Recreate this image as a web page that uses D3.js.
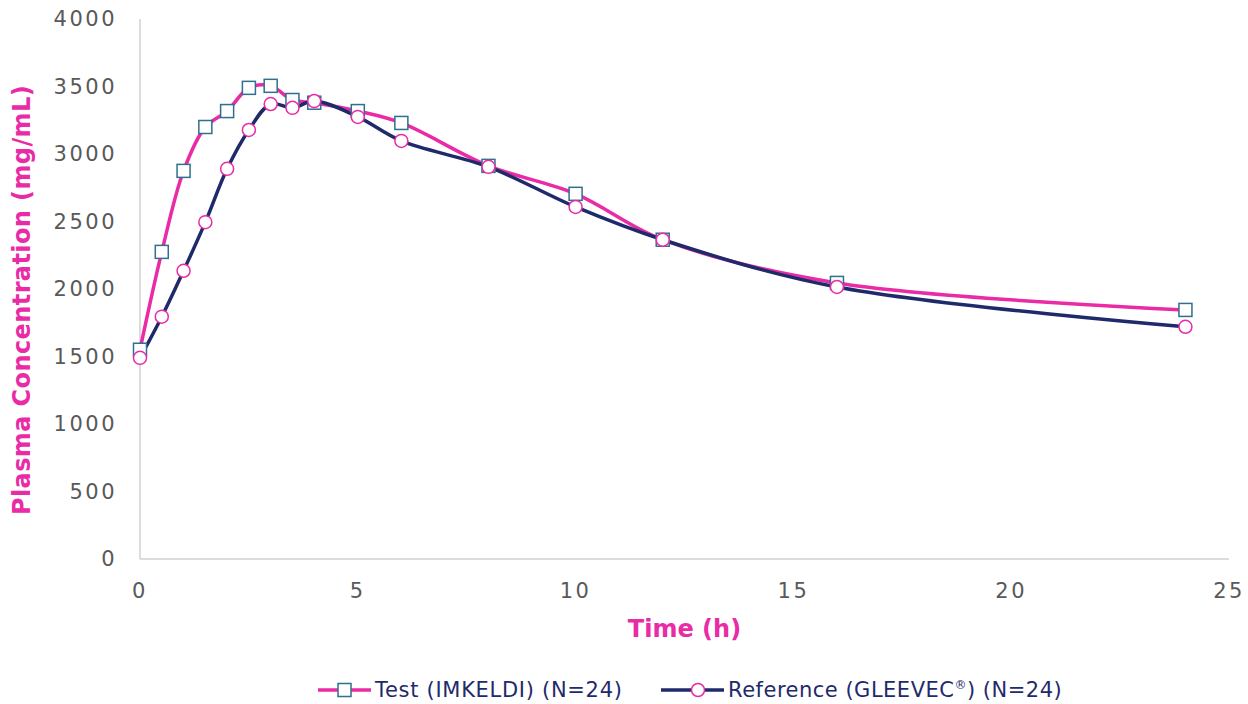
<!DOCTYPE html>
<html>
<head>
<meta charset="utf-8">
<script src="https://cdn.jsdelivr.net/npm/d3@7"></script>
<style>
  body { margin: 0; background: #fff; }
  svg { display: block; font-family: 'DejaVu Sans', sans-serif; }
</style>
</head>
<body>
<div id="chart"></div>
<script>
// Sampling times (h)
const times = [0, 0.5, 1, 1.5, 2, 2.5, 3, 3.5, 4, 5, 6, 8, 10, 12, 16, 24];
// Test (IMKELDI) mean concentrations
const testValues = [1550, 2275, 2875, 3200, 3318, 3490, 3505, 3400, 3380, 3318, 3230, 2912, 2705, 2365, 2045, 1845];
// Reference (GLEEVEC) mean concentrations
const refValues = [1490, 1795, 2135, 2495, 2890, 3178, 3370, 3342, 3392, 3275, 3097, 2905, 2608, 2365, 2015, 1720];
const xTicks = [0, 5, 10, 15, 20, 25];
const yTicks = [0, 500, 1000, 1500, 2000, 2500, 3000, 3500, 4000];

const width = 1248, height = 704;
const margin = { top: 19, right: 19, bottom: 145, left: 140 };
const pink = '#e92ba6', navy = '#1f2a6b', teal = '#2f6f8f', tickColor = '#595959';

const svg = d3.select('#chart').append('svg')
  .attr('width', width)
  .attr('height', height);

const x = d3.scaleLinear().domain([0, 25]).range([margin.left, width - margin.right]);
const y = d3.scaleLinear().domain([0, 4000]).range([height - margin.bottom, margin.top]);

// axes lines
svg.append('line')
  .attr('x1', x(0)).attr('x2', x(0))
  .attr('y1', y(4000)).attr('y2', y(0))
  .attr('stroke', '#d0d0d0').attr('stroke-width', 1.5);
svg.append('line')
  .attr('x1', x(0)).attr('x2', x(25))
  .attr('y1', y(0)).attr('y2', y(0))
  .attr('stroke', '#d0d0d0').attr('stroke-width', 1.5);

// tick labels
svg.append('g').selectAll('text')
  .data(yTicks).enter().append('text')
  .attr('x', 117)
  .attr('y', d => y(d))
  .attr('dy', '0.35em')
  .attr('text-anchor', 'end')
  .attr('fill', tickColor)
  .style('font-size', '21px')
  .style('letter-spacing', '2.5px')
  .text(d => d);

svg.append('g').selectAll('text')
  .data(xTicks).enter().append('text')
  .attr('x', d => x(d))
  .attr('y', y(0) + 32)
  .attr('dy', '0.35em')
  .attr('text-anchor', 'middle')
  .attr('fill', tickColor)
  .style('font-size', '21px')
  .style('letter-spacing', '2.5px')
  .text(d => d);

// axis titles
svg.append('text')
  .attr('x', (x(0) + x(25)) / 2)
  .attr('y', 629)
  .attr('dy', '0.35em')
  .attr('text-anchor', 'middle')
  .attr('fill', pink)
  .style('font-size', '24px')
  .style('font-weight', 'bold')
  .text('Time (h)');

svg.append('text')
  .attr('transform', 'translate(22, 300) rotate(-90)')
  .attr('dy', '0.35em')
  .attr('text-anchor', 'middle')
  .attr('fill', pink)
  .style('font-size', '24px')
  .style('font-weight', 'bold')
  .style('letter-spacing', '0.4px')
  .text('Plasma Concentration (mg/mL)');

const line = d3.line()
  .x((d, i) => x(times[i]))
  .y(d => y(d))
  .curve(d3.curveCatmullRom);

svg.append('path')
  .datum(testValues)
  .attr('d', line)
  .attr('fill', 'none')
  .attr('stroke', pink)
  .attr('stroke-width', 3.5);

svg.append('path')
  .datum(refValues)
  .attr('d', line)
  .attr('fill', 'none')
  .attr('stroke', navy)
  .attr('stroke-width', 3.5);

// markers
svg.append('g').selectAll('rect')
  .data(testValues).enter().append('rect')
  .attr('x', (d, i) => x(times[i]) - 6.5)
  .attr('y', d => y(d) - 6.5)
  .attr('width', 13).attr('height', 13)
  .attr('fill', '#fff')
  .attr('stroke', teal)
  .attr('stroke-width', 1.5);

svg.append('g').selectAll('circle')
  .data(refValues).enter().append('circle')
  .attr('cx', (d, i) => x(times[i]))
  .attr('cy', d => y(d))
  .attr('r', 6.5)
  .attr('fill', '#fff')
  .attr('stroke', pink)
  .attr('stroke-width', 1.5);

// legend
const legend = svg.append('g');
const ly = 690;
legend.append('line')
  .attr('x1', 318).attr('x2', 371).attr('y1', ly).attr('y2', ly)
  .attr('stroke', pink).attr('stroke-width', 3.5);
legend.append('rect')
  .attr('x', 338).attr('y', ly - 6.5).attr('width', 13).attr('height', 13)
  .attr('fill', '#fff').attr('stroke', teal).attr('stroke-width', 1.5);
legend.append('text')
  .attr('x', 375).attr('y', ly).attr('dy', '0.35em')
  .attr('fill', navy).style('font-size', '21px')
  .style('letter-spacing', '0.7px')
  .text('Test (IMKELDI) (N=24)');

legend.append('line')
  .attr('x1', 661).attr('x2', 724).attr('y1', ly).attr('y2', ly)
  .attr('stroke', navy).attr('stroke-width', 3.5);
legend.append('circle')
  .attr('cx', 698).attr('cy', ly).attr('r', 6.5)
  .attr('fill', '#fff').attr('stroke', pink).attr('stroke-width', 1.5);
const refText = legend.append('text')
  .attr('x', 728).attr('y', ly).attr('dy', '0.35em')
  .attr('fill', navy).style('font-size', '21px')
  .style('letter-spacing', '0.5px');
refText.append('tspan').text('Reference (GLEEVEC');
refText.append('tspan').attr('dy', -8).style('font-size', '12px').text('®');
refText.append('tspan').attr('dy', 8).text(') (N=24)');
</script>
</body>
</html>
